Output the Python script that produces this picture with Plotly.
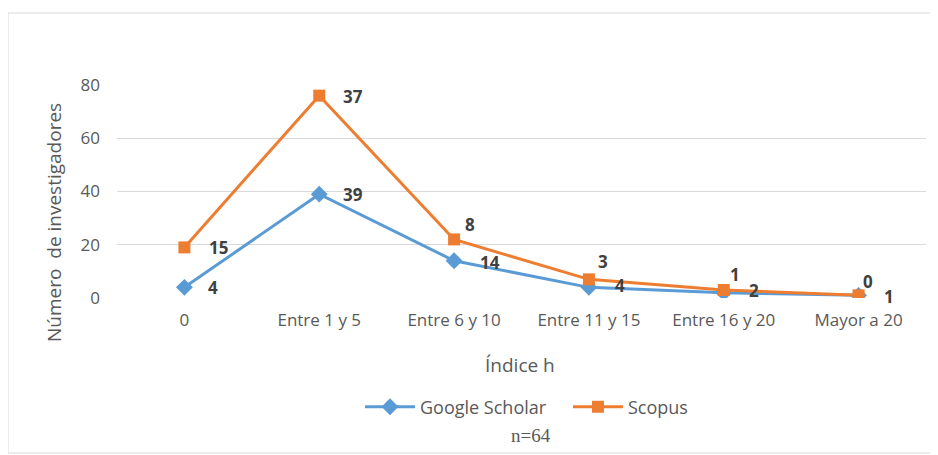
import plotly.graph_objects as go

categories = ["0", "Entre 1 y 5", "Entre 6 y 10", "Entre 11 y 15", "Entre 16 y 20", "Mayor a 20"]
google_scholar = [4, 39, 14, 4, 2, 1]
scopus = [15, 37, 8, 3, 1, 0]
y_ticks = [0, 20, 40, 60, 80]

# label offsets (pixels) relative to each marker
gs_label_dx = [22, 22, 24, 24, 23, 23]
gs_label_dy = [0, 0, -2, 2, 2, -1]
sc_label_dx = [23, 22, 9, 7, 4, 2]
sc_label_dy = [0, -1, 15, 18, 16, 14]

# page has an 8px body margin; reference-page coordinates used below
W, H = 938, 455
PL, PR, PT, PB = 117, 926, 85, 298          # plot box in page pixels
OFF = 8
L, T = PL - OFF, PT - OFF
R = W - (PR - OFF)
B = H - (PB - OFF)
pw, ph = PR - PL, PB - PT


def px(x):
    return (x - PL) / pw


def py(y):
    return (PB - y) / ph


FONT = "Open Sans, Liberation Sans, sans-serif"
GRAY = "#595959"

fig = go.Figure()
fig.add_trace(go.Scatter(
    x=categories, y=google_scholar, name="Google Scholar", stackgroup="one", fill="none",
    mode="lines+markers",
    line=dict(color="#5B9BD5", width=3),
    marker=dict(symbol="diamond", size=13, color="#5B9BD5"),
))
fig.add_trace(go.Scatter(
    x=categories, y=scopus, name="Scopus", stackgroup="one", fill="none",
    mode="lines+markers",
    line=dict(color="#ED7D31", width=3),
    marker=dict(symbol="square", size=12, color="#ED7D31"),
))

label_font = dict(family=FONT, size=17, color="#404040", weight="bold")
annotations = []
for i, cat in enumerate(categories):
    g = google_scholar[i]
    s = g + scopus[i]
    annotations.append(dict(x=cat, y=g, xref="x", yref="y", text=str(google_scholar[i]),
                            showarrow=False, xanchor="left", yanchor="middle",
                            xshift=gs_label_dx[i], yshift=gs_label_dy[i], font=label_font))
    annotations.append(dict(x=cat, y=s, xref="x", yref="y", text=str(scopus[i]),
                            showarrow=False, xanchor="left", yanchor="middle",
                            xshift=sc_label_dx[i], yshift=sc_label_dy[i], font=label_font))

annotations += [
    dict(text="Número  de investigadores", xref="paper", yref="paper", x=px(54), y=py(223),
         textangle=-90, showarrow=False, font=dict(family=FONT, size=19, color=GRAY),
         xanchor="center", yanchor="middle"),
    dict(text="Índice h", xref="paper", yref="paper", x=px(520), y=py(365),
         showarrow=False, font=dict(family=FONT, size=19, color=GRAY), xanchor="center", yanchor="middle"),
    dict(text="n=64", xref="paper", yref="paper", x=px(531), y=py(435),
         showarrow=False, font=dict(family="Liberation Serif, serif", size=19, color=GRAY),
         xanchor="center", yanchor="middle"),
]

fig.update_layout(
    width=W, height=H,
    margin=dict(l=L, r=R, t=T, b=B, autoexpand=False),
    paper_bgcolor="white", plot_bgcolor="white",
    font=dict(family=FONT, size=17, color=GRAY),
    showlegend=True,
    legend=dict(orientation="h", x=px(360), y=py(407), xanchor="left", yanchor="middle",
                font=dict(family=FONT, size=18, color=GRAY), tracegroupgap=0,
                itemwidth=50, entrywidth=143),
    xaxis=dict(type="category", range=[-0.5, len(categories) - 0.5], showgrid=False,
               zeroline=False, showline=False, ticks="", ticklabelstandoff=10,
               tickfont=dict(family=FONT, size=17, color=GRAY)),
    yaxis=dict(range=[0, 80], tickvals=y_ticks, showgrid=True, gridcolor="#D9D9D9", gridwidth=1,
               zeroline=False, showline=False, ticks="", ticklabelstandoff=16,
               tickfont=dict(family=FONT, size=17, color=GRAY)),
    annotations=annotations,
    shapes=[
        dict(type="rect", xref="paper", yref="paper", x0=px(8), x1=px(937), y0=py(453), y1=py(13),
             line=dict(color="#D9D9D9", width=1), layer="below"),
    ],
)

fig.write_html("out.html")
